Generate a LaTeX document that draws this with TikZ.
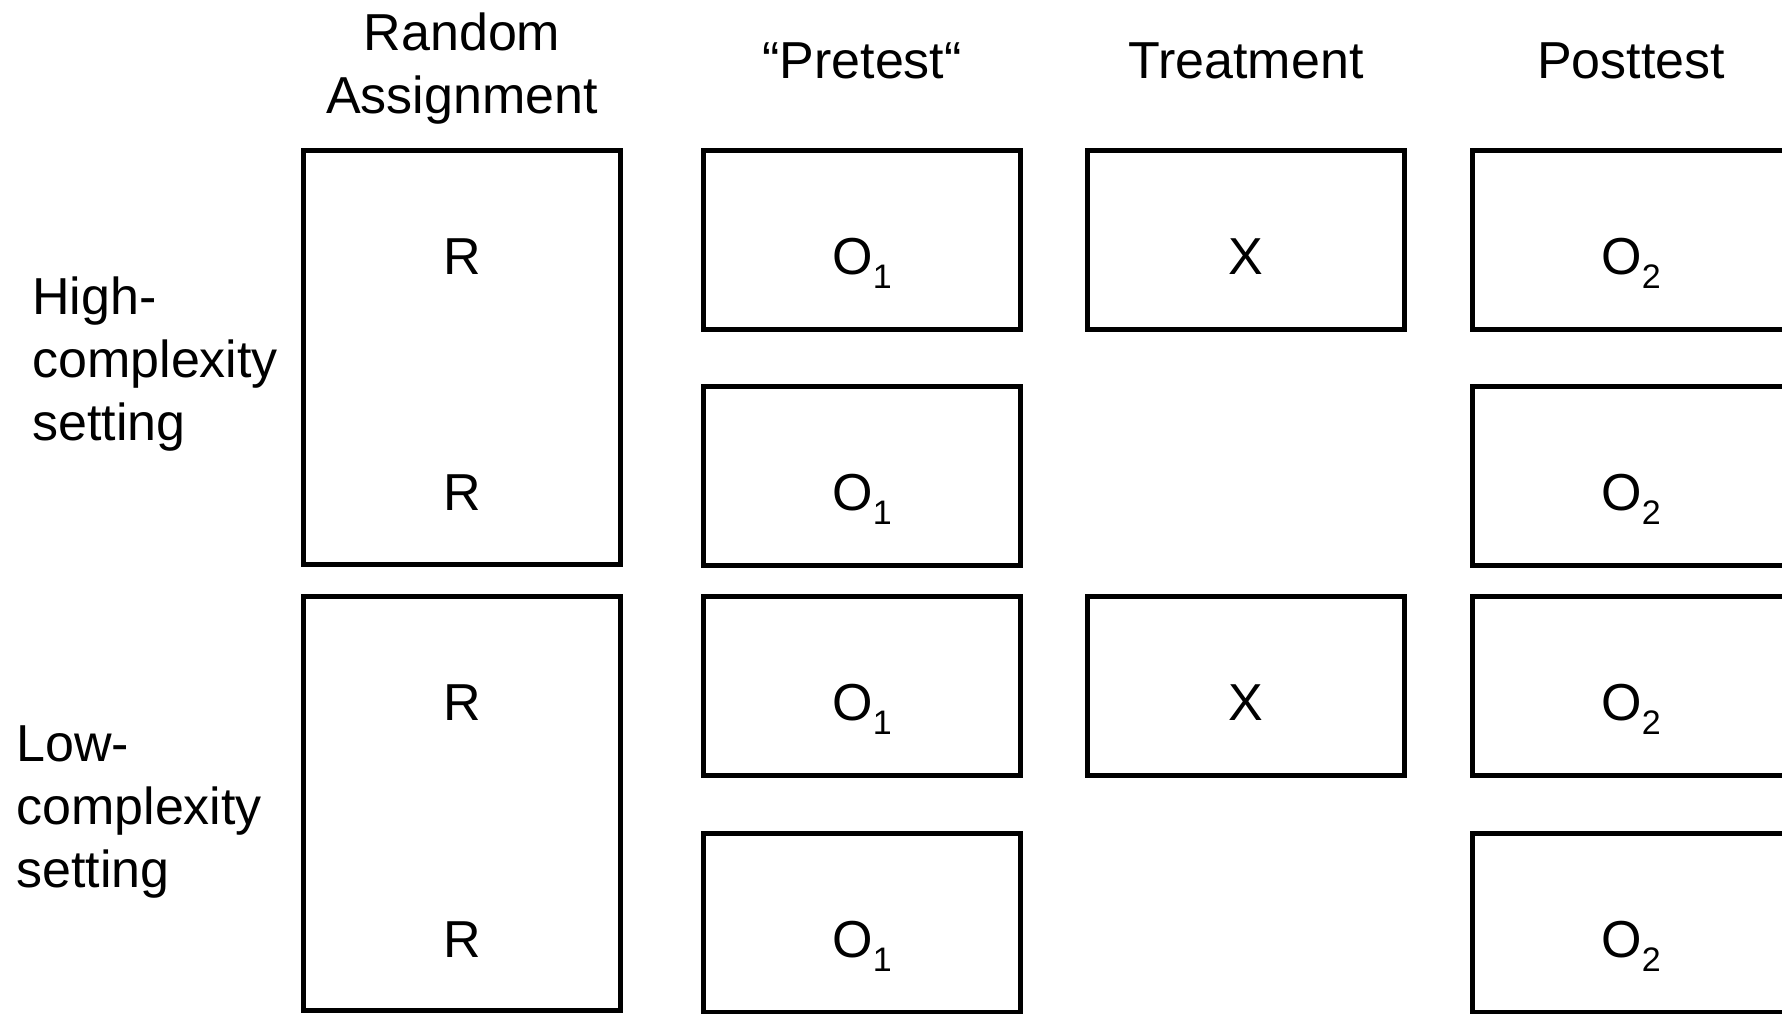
\documentclass[tikz,border=0pt]{standalone}
\usepackage{fontspec}
\setmainfont{Liberation Sans}
\usetikzlibrary{positioning}

\newcommand{\obs}[1]{O\raisebox{-7pt}{\fontsize{17}{17}\selectfont #1}}

\tikzstyle{cell} = [draw, line width=2.5pt, minimum width=158.5pt, minimum height=89.5pt, inner sep=0pt]
\tikzstyle{tallcell} = [cell, minimum height=207pt]
\tikzstyle{entry} = [anchor=base, inner sep=0pt, font=\fontsize{26}{31.5}\selectfont]
\tikzstyle{header} = [anchor=base, align=center, inner sep=0pt, font=\fontsize{26}{31.5}\selectfont]
\tikzstyle{rowlabel} = [anchor=base west, align=left, inner sep=0pt, font=\fontsize{26}{31.5}\selectfont]

\begin{document}
\begin{tikzpicture}[x=0.5pt, y=-0.5pt]
      \clip (0,0) rectangle (1782,1013);
      % headers (base = last line)
      \node[header] (hassign) at (462,113) {Random\\Assignment};
      \node[header] (hpre) at (862,78) {“Pretest“};
      \node[header] (htreat) at (1246,78) {Treatment};
      \node[header] (hpost) at (1631,78) {Posttest};
      % settings
      \node[rowlabel] (high) at (32,440) {High-\\complexity\\setting};
      \node[rowlabel] (low) at (16,887) {Low-\\complexity\\setting};
      % random assignment
      \node[tallcell] (assignhigh) at (462,357.5) {};
      \node[tallcell] (assignlow) at (462,803.5) {};
      % cells
      \foreach \nodename/\x/\y in {
        pre1/862/240, pre2/862/476, pre3/862/686, pre4/862/923,
        treat1/1246/240, treat3/1246/686,
        post1/1631/240, post2/1631/476, post3/1631/686, post4/1631/923}
      {
        \node[cell] (\nodename) at (\x,\y) {};
      };
      % entries
      \foreach \y in {240, 476, 686, 923}
      {
        \node[entry] at (462,\y+34) {R};
        \node[entry] at (862,\y+34) {\obs{1}};
        \node[entry] at (1631,\y+34) {\obs{2}};
      };
      \foreach \nodename in {treat1, treat3}
      {
        \node[entry] at ([yshift=-17pt]\nodename.center) {X};
      };
\end{tikzpicture}
\end{document}
